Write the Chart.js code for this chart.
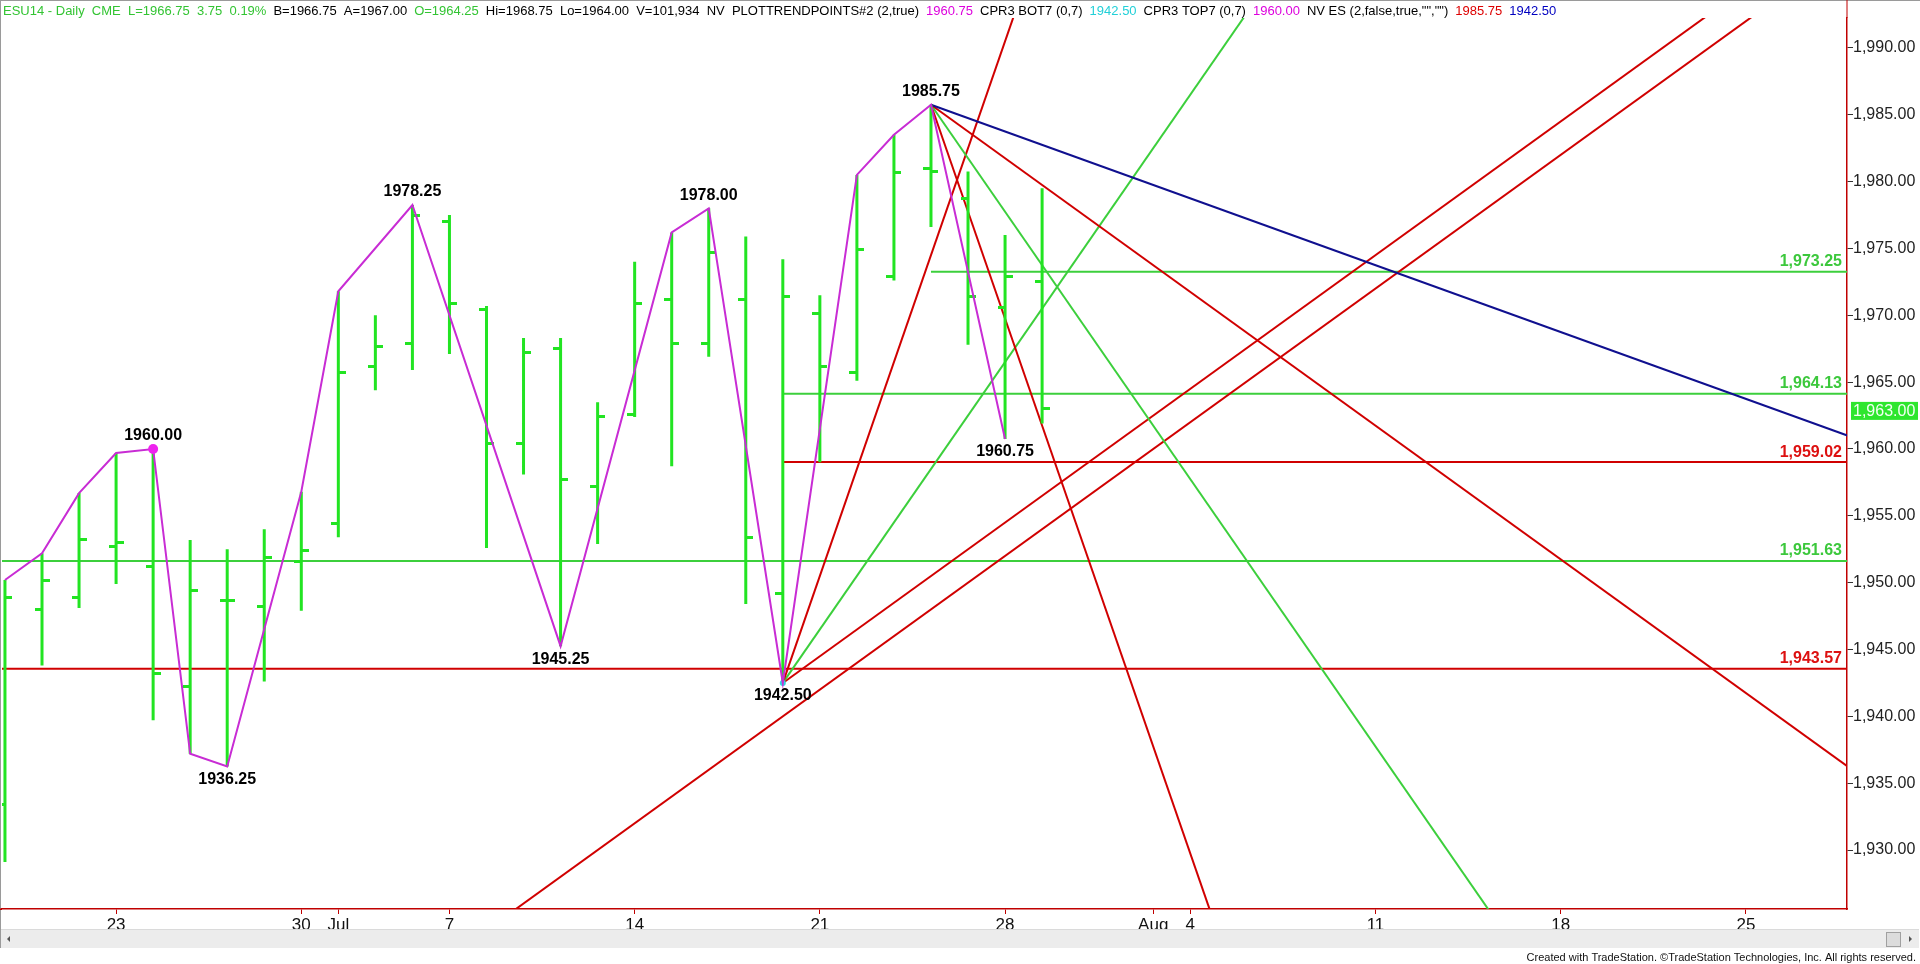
<!DOCTYPE html>
<html>
<head>
<meta charset="utf-8">
<title>ESU14 - Daily CME</title>
<script src="https://cdn.jsdelivr.net/npm/chart.js@4.4.1/dist/chart.umd.min.js"></script>
<style>
  html, body { margin: 0; padding: 0; background: #fff; }
  canvas { display: block; }
</style>
</head>
<body>
<canvas id="chart" width="1920" height="964"></canvas>
<script>
// trading days drawn as bars (index 0 = Jun 18, 2014)
const dates = ['Jun 18','Jun 19','Jun 20','Jun 23','Jun 24','Jun 25','Jun 26','Jun 27','Jun 30',
  'Jul 1','Jul 2','Jul 3','Jul 7','Jul 8','Jul 9','Jul 10','Jul 11','Jul 14','Jul 15','Jul 16',
  'Jul 17','Jul 18','Jul 21','Jul 22','Jul 23','Jul 24','Jul 25','Jul 28','Jul 29'];
const opens  = [1933.4, 1948.0, 1948.9, 1952.7, 1951.2, 1942.2, 1948.7, 1948.2, 1951.6, 1954.4,
  1966.2, 1967.9, 1977.0, 1970.4, 1960.4, 1967.5, 1957.2, 1962.6, 1971.2, 1967.9,
  1971.2, 1949.2, 1970.1, 1965.7, 1972.9, 1981.0, 1978.75, 1970.6, 1972.5];
const highs  = [1950.2, 1952.2, 1956.7, 1959.7, 1960.0, 1953.2, 1952.5, 1954.0, 1956.8, 1971.8,
  1970.0, 1978.25, 1977.5, 1970.7, 1968.3, 1968.3, 1963.5, 1974.0, 1976.2, 1978.0,
  1975.9, 1974.2, 1971.5, 1980.5, 1983.5, 1985.75, 1980.75, 1976.0, 1979.5];
const lows   = [1929.1, 1943.8, 1948.1, 1949.9, 1939.7, 1937.2, 1936.25, 1942.6, 1947.9, 1953.4,
  1964.4, 1965.9, 1967.1, 1952.6, 1958.1, 1945.25, 1952.9, 1962.4, 1958.7, 1966.9,
  1948.4, 1942.5, 1959.0, 1965.1, 1972.6, 1976.6, 1967.8, 1960.75, 1961.9];
const closes = [1948.9, 1950.2, 1953.2, 1953.0, 1943.2, 1949.4, 1948.7, 1951.9, 1952.4, 1965.7,
  1967.7, 1977.5, 1970.9, 1960.4, 1967.2, 1957.7, 1962.4, 1970.9, 1967.9, 1974.7,
  1953.4, 1971.4, 1966.2, 1974.9, 1980.7, 1980.75, 1971.4, 1972.9, 1963.0];

// swing line (PLOTTRENDPOINTS)
const pivotIdx = [0, 1, 2, 3, 4, 5, 6, 8, 9, 11, 15, 18, 19, 21, 23, 24, 25, 27];
const pivotVal = [1950.2, 1952.2, 1956.7, 1959.7, 1960.0, 1937.2, 1936.25, 1956.8, 1971.8, 1978.25,
  1945.25, 1976.2, 1978.0, 1942.5, 1980.5, 1983.5, 1985.75, 1960.75];

// labelled swing points (1 = high, -1 = low)
const labelIdx  = [4, 6, 11, 15, 19, 21, 25, 27];
const labelVal  = [1960.00, 1936.25, 1978.25, 1945.25, 1978.00, 1942.50, 1985.75, 1960.75];
const labelSide = [1, -1, 1, -1, 1, -1, 1, -1];

// horizontal levels
const levelVal   = [1973.25, 1964.13, 1959.02, 1951.63, 1943.57];
const levelStart = [25, 21, 21, -1, -1];
const levelColor = ['green', 'green', 'red', 'green', 'red'];

// trend lines, start and end read as [bar index, price]
const trendFrom = [[25, 1985.75], [25, 1985.75], [25, 1985.75], [25, 1985.75],
  [21, 1942.5], [21, 1942.5], [21, 1942.5], [13, 1924.0]];
const trendTo = [[50, 1960.75], [50, 1935.75], [41, 1921.75], [33, 1921.75],
  [28, 1998.5], [34, 1994.5], [47, 1994.5], [48, 1994.0]];
const trendColor = ['blue', 'red', 'green', 'red', 'red', 'green', 'red', 'red'];

// axes
const priceTicks = [1930, 1935, 1940, 1945, 1950, 1955, 1960, 1965, 1970, 1975, 1980, 1985, 1990];
const dayTicks = [3, 8, 9, 12, 17, 22, 27, 31, 32, 37, 42, 47];
const dayText = ['23', '30', 'Jul', '7', '14', '21', '28', 'Aug', '4', '11', '18', '25'];
const lastPrice = 1963.00;

// status line segments and their colours
const headerText = ['ESU14 - Daily  CME  L=1966.75  3.75  0.19%', 'B=1966.75  A=1967.00', 'O=1964.25',
  'Hi=1968.75  Lo=1964.00  V=101,934  NV  PLOTTRENDPOINTS#2 (2,true)', '1960.75', 'CPR3 BOT7 (0,7)',
  '1942.50', 'CPR3 TOP7 (0,7)', '1960.00', 'NV ES (2,false,true,"","")', '1985.75', '1942.50'];
const headerColor = ['#33c433', '#000', '#33c433', '#000', '#dd00dd', '#000',
  '#22d0d8', '#000', '#dd00dd', '#000', '#dd0000', '#0000c0'];

const colors = {
  bar: '#22e422',
  green: '#3ccf3c',
  red: '#d00000',
  blue: '#10108f',
  magenta: '#c82cd4',
  axis: '#c00000'
};
const fontFamily = '"Liberation Sans", Arial, sans-serif';

function fmt(v) {
  return v.toLocaleString('en-US', { minimumFractionDigits: 2, maximumFractionDigits: 2 });
}

// small open/close tick drawn as a point image
function tickImage(side) {
  const c = document.createElement('canvas');
  c.width = 15;
  c.height = 3;
  const g = c.getContext('2d');
  g.fillStyle = colors.bar;
  g.fillRect(side < 0 ? 0 : 8, 0, 7, 3);
  return c;
}

const datasets = [];

// high-low bars as one broken line
datasets.push({
  data: dates.flatMap((d, i) => [{ x: i, y: lows[i] }, { x: i, y: highs[i] }, { x: i, y: null }]),
  showLine: true, spanGaps: false, borderColor: colors.bar, borderWidth: 3,
  borderCapStyle: 'butt', pointRadius: 0, order: 2
});
datasets.push({
  data: dates.map((d, i) => ({ x: i, y: opens[i] })),
  pointStyle: tickImage(-1), pointRadius: 7, order: 2
});
datasets.push({
  data: dates.map((d, i) => ({ x: i, y: closes[i] })),
  pointStyle: tickImage(1), pointRadius: 7, order: 2
});

levelVal.forEach(function(v, k) {
  datasets.push({
    data: [{ x: levelStart[k], y: v }, { x: 51, y: v }],
    showLine: true, borderColor: colors[levelColor[k]],
    borderWidth: 2, pointRadius: 0, order: 5
  });
});

trendFrom.forEach(function(p, k) {
  datasets.push({
    data: [{ x: p[0], y: p[1] }, { x: trendTo[k][0], y: trendTo[k][1] }],
    showLine: true, borderColor: colors[trendColor[k]], borderWidth: 2,
    pointRadius: 0, order: 4
  });
});

// swing line with the marked 1960.00 high
datasets.push({
  data: pivotIdx.map((i, k) => ({ x: i, y: pivotVal[k] })),
  showLine: true, borderColor: colors.magenta, borderWidth: 2,
  pointRadius: ctx => (ctx.dataIndex === 4 ? 5 : 0),
  pointBackgroundColor: '#ee22ee', pointBorderWidth: 0, order: 1
});
datasets.push({
  data: [{ x: 21, y: 1942.5 }],
  pointRadius: 3, pointBackgroundColor: '#30d8e0', pointBorderWidth: 0, order: 1
});

const overlay = {
  id: 'overlay',
  afterDatasetsDraw(chart) {
    const { ctx, chartArea: a, scales: { x, y } } = chart;
    ctx.save();
    ctx.font = 'bold 16px ' + fontFamily;
    ctx.textBaseline = 'middle';

    // swing point labels
    ctx.fillStyle = '#000';
    ctx.textAlign = 'center';
    labelIdx.forEach(function(i, k) {
      const py = y.getPixelForValue(labelVal[k]) + (labelSide[k] > 0 ? -13 : 13);
      ctx.fillText(labelVal[k].toFixed(2), x.getPixelForValue(i), py);
    });

    // level labels at the right edge
    ctx.textAlign = 'right';
    levelVal.forEach(function(v, k) {
      ctx.fillStyle = levelColor[k] === 'red' ? '#dd1010' : '#3cc83c';
      ctx.fillText(fmt(v), a.right - 5, y.getPixelForValue(v) - 10);
    });
    ctx.restore();
  },
  afterDraw(chart) {
    const { ctx, chartArea: a, scales: { y } } = chart;
    ctx.save();

    // frame bits
    ctx.fillStyle = '#9a9a9a';
    ctx.fillRect(0, 0, 1920, 1);
    ctx.fillRect(0, 0, 1, 948);
    ctx.fillStyle = colors.axis;
    ctx.fillRect(a.right - 0.5, 0, 1, a.top);
    ctx.fillRect(0, a.bottom - 0.5, a.left, 1.5);

    // last price box
    const py = y.getPixelForValue(lastPrice) + 2;
    ctx.fillStyle = '#2ee62e';
    ctx.fillRect(a.right + 4, py - 9, 1918 - a.right - 4, 18);
    ctx.fillStyle = '#f4fff4';
    ctx.font = '16px ' + fontFamily;
    ctx.textAlign = 'left';
    ctx.textBaseline = 'middle';
    ctx.fillText(fmt(lastPrice), a.right + 6, py + 1);

    // status line, segments laid out one after another
    ctx.font = '13px ' + fontFamily;
    ctx.textBaseline = 'alphabetic';
    let hx = 3;
    headerText.forEach(function(t, k) {
      ctx.fillStyle = headerColor[k];
      ctx.fillText(t, hx, 15);
      hx += ctx.measureText(t).width + 7;
    });

    // scrollbar strip
    ctx.fillStyle = '#ececec';
    ctx.fillRect(1, 929, 1918, 19);
    ctx.fillStyle = '#dadada';
    ctx.fillRect(1, 929, 1918, 1);
    ctx.fillStyle = '#555';
    ctx.beginPath();
    ctx.moveTo(7, 939); ctx.lineTo(10, 936); ctx.lineTo(10, 942); ctx.closePath(); ctx.fill();
    ctx.beginPath();
    ctx.moveTo(1912, 939); ctx.lineTo(1909, 936); ctx.lineTo(1909, 942); ctx.closePath(); ctx.fill();
    ctx.fillStyle = '#dcdcdc';
    ctx.fillRect(1886, 932, 14, 14);
    ctx.strokeStyle = '#a0a0a0';
    ctx.strokeRect(1886.5, 932.5, 14, 14);

    // footer
    ctx.fillStyle = '#111';
    ctx.font = '11px ' + fontFamily;
    ctx.textAlign = 'right';
    ctx.textBaseline = 'middle';
    ctx.fillText('Created with TradeStation. \u00A9TradeStation Technologies, Inc. All rights reserved.', 1916, 958);
    ctx.restore();
  }
};

new Chart(document.getElementById('chart'), {
  type: 'scatter',
  data: { datasets: datasets },
  options: {
    responsive: false,
    animation: false,
    events: [],
    layout: { autoPadding: false, padding: { left: 2, top: 18, right: 0, bottom: 0 } },
    plugins: { legend: { display: false }, tooltip: { enabled: false } },
    elements: { line: { tension: 0 } },
    scales: {
      x: {
        type: 'linear',
        position: 'bottom',
        min: -0.08,
        max: 49.73,
        offset: false,
        afterBuildTicks: s => { s.ticks = dayTicks.map(v => ({ value: v })); },
        afterFit: s => { s.height = 55; },
        ticks: {
          autoSkip: false, maxRotation: 0, padding: 1, color: '#111',
          font: { family: fontFamily, size: 17 },
          callback: (v, i) => dayText[i]
        },
        grid: { drawOnChartArea: false, tickLength: 5, tickColor: colors.axis },
        border: { color: colors.axis, width: 1.5 }
      },
      y: {
        type: 'linear',
        position: 'right',
        min: 1925.59,
        max: 1992.24,
        afterBuildTicks: s => { s.ticks = priceTicks.map(v => ({ value: v })); },
        afterFit: s => { s.width = 73; },
        ticks: {
          padding: 0, color: '#222',
          font: { family: fontFamily, size: 16 },
          callback: v => fmt(v)
        },
        grid: { drawOnChartArea: false, tickLength: 6, tickColor: '#333' },
        border: { color: colors.axis, width: 1.5 }
      }
    }
  },
  plugins: [overlay]
});
</script>
</body>
</html>
